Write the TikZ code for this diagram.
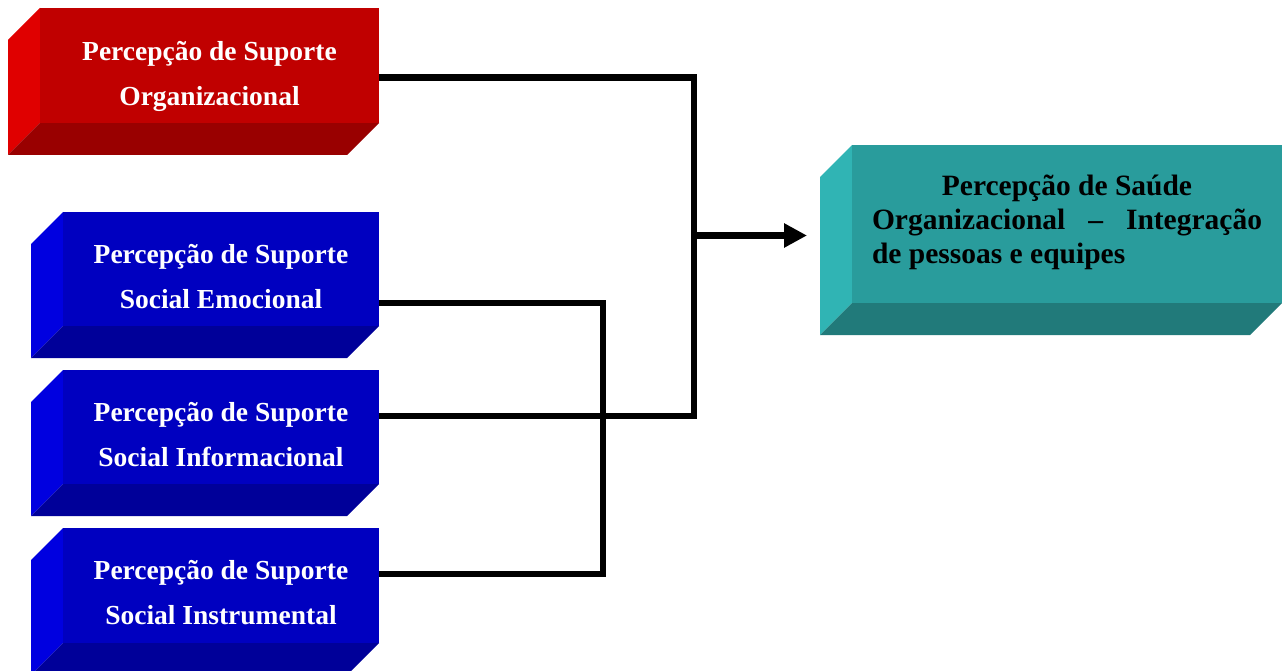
\documentclass[tikz,border=0pt]{standalone}
\usepackage{fontspec}
\setmainfont{Liberation Serif}
\usetikzlibrary{fit,arrows.meta}
\definecolor{rF}{HTML}{C00000}
\definecolor{rS}{HTML}{E00000}
\definecolor{rB}{HTML}{990000}
\definecolor{bF}{HTML}{0000C0}
\definecolor{bS}{HTML}{0000E0}
\definecolor{bB}{HTML}{000099}
\definecolor{tF}{HTML}{299C9C}
\definecolor{tS}{HTML}{30B4B4}
\definecolor{tB}{HTML}{217A7A}
\newcommand\bevelbox[6]{%
  \fill[#6S] (#2,#3) -- (#2-32,#3+32) -- (#2-32,#5+32) -- (#2,#5) -- cycle;
  \fill[#6B] (#2,#5) -- (#4,#5) -- (#4-32,#5+32) -- (#2-32,#5+32) -- cycle;
  \node[fit={(#2,#3) (#4,#5)}, inner sep=0pt, fill=#6F] (#1) {};
}
\tikzset{
  wtext/.style={anchor=base, inner sep=0pt, text=white,
    font=\fontsize{27.5}{44.5}\selectfont\bfseries},
  ktext/.style={anchor=base, inner sep=0pt, text=black,
    font=\fontsize{29.5}{34}\selectfont\bfseries},
  conn/.style={draw=black, line width=6.5pt, line join=miter}
}
\begin{document}
\begin{tikzpicture}[x=1pt,y=-1pt]
\useasboundingbox (0,0) rectangle (1282,671);
\bevelbox{red}{40}{8}{379}{123}{r}
\bevelbox{emo}{63}{212}{379}{326}{b}
\bevelbox{inf}{63}{370}{379}{484}{b}
\bevelbox{ins}{63}{528}{379}{643}{b}
\bevelbox{sau}{852}{145}{1282}{303}{t}
\node[wtext] (redt) at ([yshift=-53pt]red.north) {\parbox[t]{320pt}{\centering Percepção de Suporte\\Organizacional}};
\node[wtext] (emot) at ([yshift=-52pt]emo.north) {\parbox[t]{310pt}{\centering Percepção de Suporte\\Social Emocional}};
\node[wtext] (inft) at ([yshift=-52pt]inf.north) {\parbox[t]{310pt}{\centering Percepção de Suporte\\Social Informacional}};
\node[wtext] (inst) at ([yshift=-52pt]ins.north) {\parbox[t]{310pt}{\centering Percepção de Suporte\\Social Instrumental}};
\node[ktext] (saut) at ([yshift=-50.5pt]sau.north) {\parbox[t]{390pt}{\centering Percepção de Saúde\par\makebox[390pt][s]{Organizacional – Integração}\par\raggedright de pessoas e equipes\par}};
\coordinate (j1) at (694,235.5);
\coordinate (j2) at (603,440);
\coordinate (tip) at (807,235.5);
\draw[conn] ([yshift=-69.5pt]red.north east) -| (j1) |- ([yshift=-46pt]inf.north east);
\draw[conn] ([yshift=-91pt]emo.north east) -| (j2) |- ([yshift=-46pt]ins.north east);
\draw[conn,-{Triangle[length=23pt,width=23pt]}] (j1) -- (tip);
\end{tikzpicture}
\end{document}
